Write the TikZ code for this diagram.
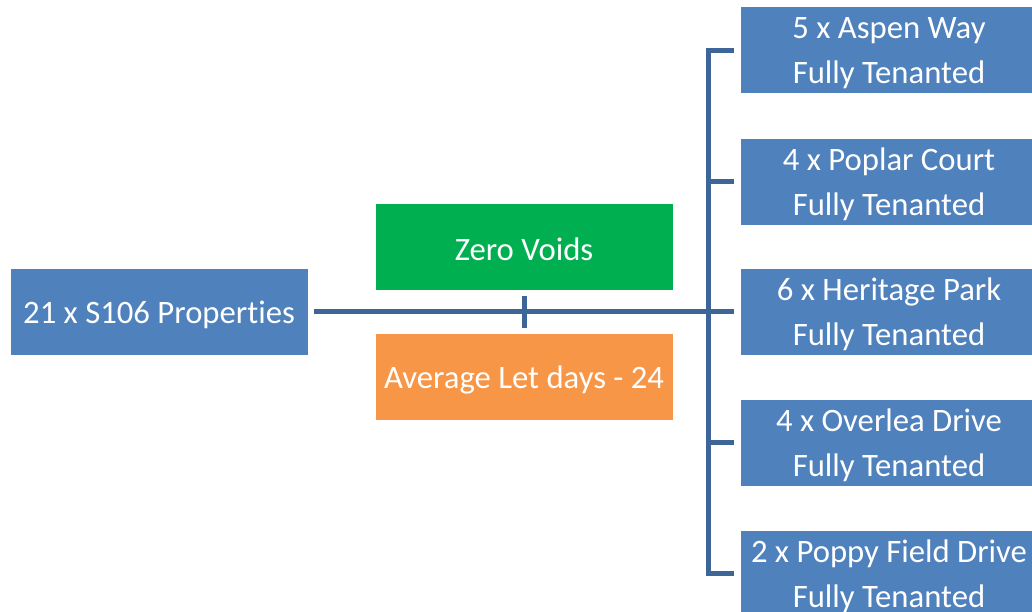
\documentclass[tikz,border=0pt]{standalone}
\usepackage{fontspec}
\setmainfont{Carlito}[Ligatures=NoCommon]
\definecolor{boxblue}{HTML}{4F81BD}
\definecolor{boxgreen}{HTML}{00B050}
\definecolor{boxorange}{HTML}{F79646}
\definecolor{linkblue}{HTML}{3E6598}
\begin{document}
\begin{tikzpicture}[x=1pt,y=-1pt,
  box/.style={draw=white, line width=0.8pt, minimum width=298pt, minimum height=87pt, inner sep=0pt},
  lbl/.style={text=white, align=center, inner sep=0pt, yshift=-3pt, font=\fontsize{32.7}{45.5}\selectfont},
  conn/.style={draw=linkblue, line width=5pt}]
\useasboundingbox (0,0) rectangle (1032,611);
\clip (0,0) rectangle (1032,611);
\node[box, fill=boxblue, label={[lbl]center:21 x S106 Properties}] (src) at (159,311.5) {};
\node[box, fill=boxgreen, label={[lbl]center:Zero Voids}] (zero) at (524,246.5) {};
\node[box, fill=boxorange, label={[lbl]center:Average Let days - 24}] (avg) at (524,376.5) {};
\node[box, fill=boxblue, label={[lbl]center:5 x Aspen Way\\Fully Tenanted}] (r1) at (889,50) {};
\node[box, fill=boxblue, label={[lbl]center:4 x Poplar Court\\Fully Tenanted}] (r2) at (889,181.5) {};
\node[box, fill=boxblue, label={[lbl]center:6 x Heritage Park\\Fully Tenanted}] (r3) at (889,311.5) {};
\node[box, fill=boxblue, label={[lbl]center:4 x Overlea Drive\\Fully Tenanted}] (r4) at (889,442.5) {};
\node[box, fill=boxblue, label={[lbl]center:2 x Poppy Field Drive\\Fully Tenanted}] (r5) at (889,573.5) {};
\coordinate (bus) at (708,311.5);
\draw[conn, shorten <=6pt, shorten >=6pt] (src.east) -- (r3.west);
\draw[conn, shorten <=6pt, shorten >=5pt] (zero.south) -- (avg.north);
\draw[conn, line cap=rect] (bus |- r1.west) -- (bus |- r5.west);
\foreach \r in {r1,r2,r3,r4,r5}
  \draw[conn, shorten >=6pt] (bus |- \r.west) -- (\r.west);
\end{tikzpicture}
\end{document}
